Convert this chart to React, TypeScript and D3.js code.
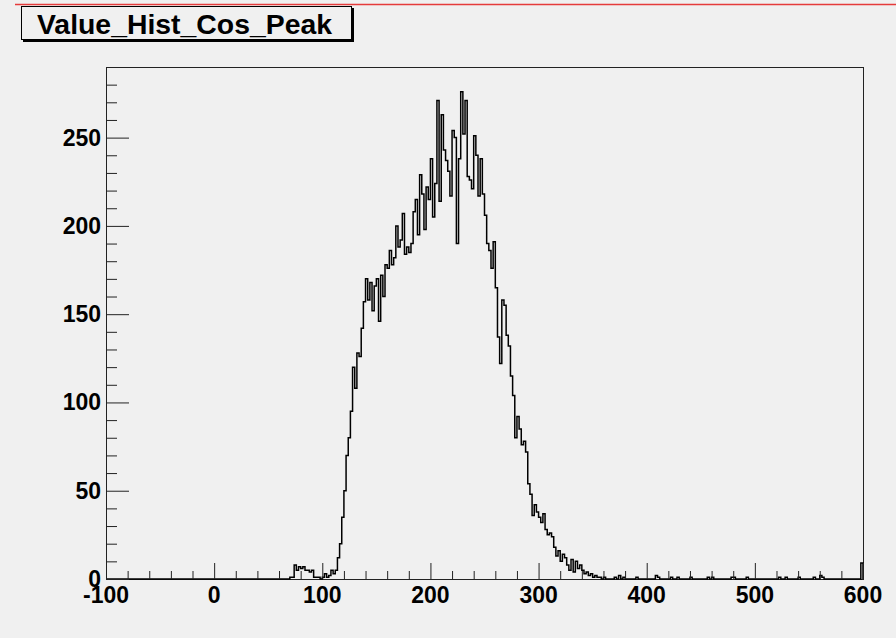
import React from "react";
import * as d3 from "d3";

const title = "Value_Hist_Cos_Peak";
const xMajorTicks = [-100, 0, 100, 200, 300, 400, 500, 600];
const yMajorTicks = [0, 50, 100, 150, 200, 250];
const xDomain = [-100, 600];
const yDomain = [0, 290];
const binWidth = 2;
const mainStart = 66;
// counts of 2-unit bins starting at 66
const mainCounts = [
  0, 0, 1, 1, 8, 5, 7, 6, 7, 5, // 66..84
  5, 4, 5, 1, 1, 1, 0, 1, 3, 1, // 86..104
  2, 5, 3, 5, 12, 20, 35, 50, 70, 80, // 106..124
  95, 120, 108, 128, 126, 142, 157, 170, 158, 168, // 126..144
  152, 166, 170, 146, 172, 160, 178, 176, 186, 178, // 146..164
  182, 200, 188, 192, 207, 184, 188, 185, 190, 208, // 166..184
  215, 195, 229, 218, 198, 222, 215, 238, 205, 224, // 186..204
  271, 214, 263, 243, 237, 231, 217, 254, 250, 190, // 206..224
  238, 276, 252, 271, 228, 226, 221, 251, 240, 217, // 226..244
  238, 218, 206, 190, 186, 176, 191, 165, 137, 122, // 246..264
  158, 155, 138, 132, 115, 104, 80, 92, 85, 76, // 266..284
  78, 72, 54, 48, 36, 42, 38, 35, 32, 37, // 286..304
  28, 25, 26, 24, 18, 13, 16, 10, 14, 12, // 306..324
  8, 5, 11, 4, 10, 6, 8, 5, 3, 4, // 326..344
  2, 3, 1, 2, 1, 1, 0, 1 // 346..360
];
const tailBins = [370, 374, 378, 390, 408, 410, 422, 428, 440, 456, 460, 478, 480, 491, 522, 528, 540, 553, 560, 562, 598];
const tailCounts = [1, 2, 1, 1, 2, 1, 1, 1, 1, 1, 1, 1, 1, 1, 1, 1, 1, 1, 2, 1, 9];

const FONT = "'Liberation Sans', Arial, Helvetica, sans-serif";

export default function App() {
  const W = 896, H = 638;
  const left = 106, right = 863, top = 67, bottom = 579;
  const x = d3.scaleLinear().domain(xDomain).range([left, right]);
  const y = d3.scaleLinear().domain(yDomain).range([bottom, top]);

  const nBins = (xDomain[1] - xDomain[0]) / binWidth;
  const counts = new Array(nBins).fill(0);
  mainCounts.forEach((c, i) => {
    const idx = Math.round((mainStart + i * binWidth - xDomain[0]) / binWidth);
    if (idx >= 0 && idx < nBins) counts[idx] = c;
  });
  tailBins.forEach((b, i) => {
    const idx = Math.round((b - xDomain[0]) / binWidth);
    if (idx >= 0 && idx < nBins) counts[idx] = tailCounts[i];
  });

  const pts: [number, number][] = [[x(xDomain[0]), y(0)]];
  counts.forEach((c, i) => {
    const lo = xDomain[0] + i * binWidth;
    pts.push([x(lo), y(c)]);
    pts.push([x(lo + binWidth), y(c)]);
  });
  pts.push([x(xDomain[1]), y(0)]);
  const path = d3.line()(pts) || "";

  const xMinor = d3.range(xDomain[0], xDomain[1] + 1, 20).filter((v) => !xMajorTicks.includes(v));
  const yMinor = d3.range(0, 291, 10).filter((v) => !yMajorTicks.includes(v) && v < 290);

  return (
    <svg width={W} height={H} style={{ position: "absolute", left: 0, top: 0, display: "block" }}>
      <rect x={0} y={0} width={W} height={H} fill="#f0f0f0" />
      <line x1={15} x2={W} y1={4.5} y2={4.5} stroke="#e53b3b" strokeWidth={1.5} />
      {/* title box */}
      <rect x={23} y={8} width={331} height={34} fill="#000" />
      <rect x={21.5} y={6.5} width={330} height={33} fill="#f0f0f0" stroke="#000" strokeWidth={1} />
      <text x={37} y={34} fontFamily={FONT} fontWeight="bold" fontSize={27} textLength={295} lengthAdjust="spacingAndGlyphs" fill="#000">
        {title}
      </text>
      {/* frame */}
      <rect x={left + 0.5} y={top + 0.5} width={right - left} height={bottom - top} fill="none" stroke="#222" strokeWidth={1} />
      {/* histogram */}
      <path d={path} fill="none" stroke="#000" strokeWidth={1.5} />
      {/* x ticks */}
      {xMajorTicks.map((v) => (
        <line key={"xM" + v} x1={x(v) + 0.5} x2={x(v) + 0.5} y1={bottom} y2={bottom - 16} stroke="#222" strokeWidth={1} />
      ))}
      {xMinor.map((v) => (
        <line key={"xm" + v} x1={x(v) + 0.5} x2={x(v) + 0.5} y1={bottom} y2={bottom - 8} stroke="#222" strokeWidth={1} />
      ))}
      {xMajorTicks.map((v) => (
        <text key={"xl" + v} x={x(v)} y={603} textAnchor="middle" fontFamily={FONT} fontWeight="bold" fontSize={23} fill="#000">
          {v}
        </text>
      ))}
      {/* y ticks */}
      {yMajorTicks.map((v) => (
        <line key={"yM" + v} x1={left} x2={left + 23} y1={y(v) + 0.5} y2={y(v) + 0.5} stroke="#222" strokeWidth={1} />
      ))}
      {yMinor.map((v) => (
        <line key={"ym" + v} x1={left} x2={left + 11} y1={y(v) + 0.5} y2={y(v) + 0.5} stroke="#222" strokeWidth={1} />
      ))}
      {yMajorTicks.map((v) => (
        <text key={"yl" + v} x={101} y={y(v) + 8} textAnchor="end" fontFamily={FONT} fontWeight="bold" fontSize={23} fill="#000">
          {v}
        </text>
      ))}
    </svg>
  );
}
